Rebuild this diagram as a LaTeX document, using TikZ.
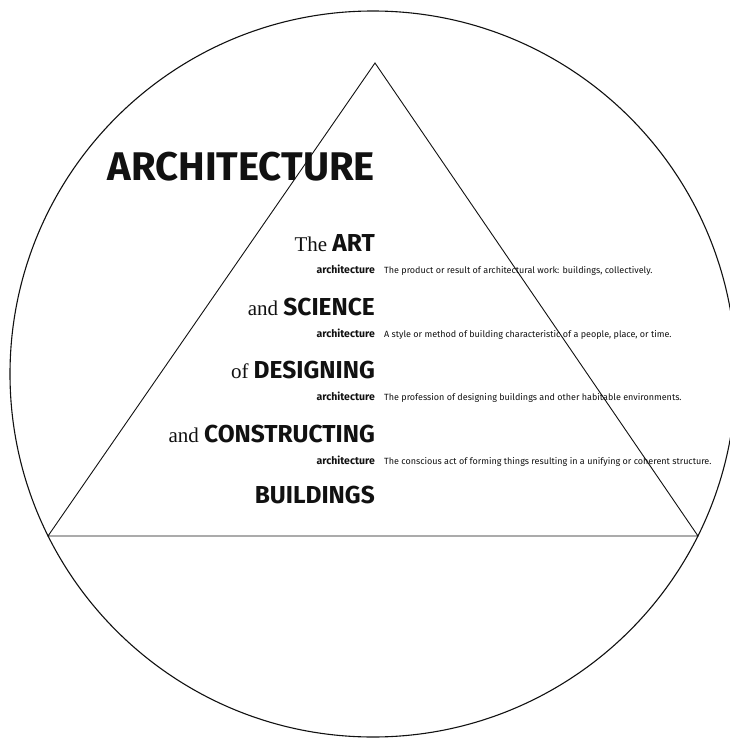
\documentclass[tikz,border=0pt]{standalone}
\usepackage{fontspec}
\usepackage{xcolor}
\usepackage{tikz}
\usetikzlibrary{positioning,calc}
\newfontfamily\capsfont{Fira Sans}[UprightFont=* Bold]
\newfontfamily\smallfont{Fira Sans}
\newfontfamily\labelfont{Fira Sans}[UprightFont=* Bold]
\newfontfamily\serifword{Liberation Serif}
\definecolor{ink}{HTML}{111111}
\tikzset{
  outline/.style={draw=ink, line width=1.1pt},
  title/.style={inner sep=0pt, anchor=base east, text=ink,
    font=\capsfont\fontsize{40}{44}\selectfont},
  heading/.style={inner sep=0pt, anchor=base east, text=ink,
    font=\serifword\fontsize{21}{24}\selectfont},
  deflabel/.style={inner sep=0pt, anchor=base east, text=ink,
    font=\labelfont\fontsize{10.5}{11}\selectfont},
  deftext/.style={inner sep=0pt, anchor=base west, text=ink,
    font=\smallfont\fontsize{9}{10}\selectfont},
}
\newcommand{\bigword}[1]{{\capsfont\fontsize{24.5}{27}\selectfont #1}}

\begin{document}
\begin{tikzpicture}[x=1pt, y=-1pt]
  \useasboundingbox (0,0) rectangle (729,738);

  % frame: circle with inscribed triangle
  \coordinate (mid)   at (373,374);
  \coordinate (apex)  at (375,63);
  \coordinate (baseL) at (48,536);
  \coordinate (baseR) at (698,536);
  \draw[outline] (mid) circle[radius=363];
  \draw[outline, line width=0.9pt] (baseL) -- (apex) -- (baseR) -- cycle;

  % headline
  \node[title] (arch) at (375,180) {ARCHITECTURE};

  % the four meanings
  \node[heading] (art)  at (375,251) {The \bigword{ART}};
  \node[heading] (sci)  at (375,315) {and \bigword{SCIENCE}};
  \node[heading] (des)  at (375,378) {of \bigword{DESIGNING}};
  \node[heading] (con)  at (375,442) {and \bigword{CONSTRUCTING}};
  \node[heading] (bld)  at (375,503) {\bigword{BUILDINGS}};

  \node[deflabel] (lbl1) at (375,273) {architecture};
  \node[deftext] (def1) at ($(lbl1.base east)+(9,0)$)
    {The product or result of architectural work: buildings, collectively.};
  \node[deflabel] (lbl2) at (375,337) {architecture};
  \node[deftext] (def2) at ($(lbl2.base east)+(9,0)$)
    {A style or method of building characteristic of a people, place, or time.};
  \node[deflabel] (lbl3) at (375,400) {architecture};
  \node[deftext] (def3) at ($(lbl3.base east)+(9,0)$)
    {The profession of designing buildings and other habitable environments.};
  \node[deflabel] (lbl4) at (375,464) {architecture};
  \node[deftext] (def4) at ($(lbl4.base east)+(9,0)$)
    {The conscious act of forming things resulting in a unifying or coherent structure.};
\end{tikzpicture}
\end{document}
